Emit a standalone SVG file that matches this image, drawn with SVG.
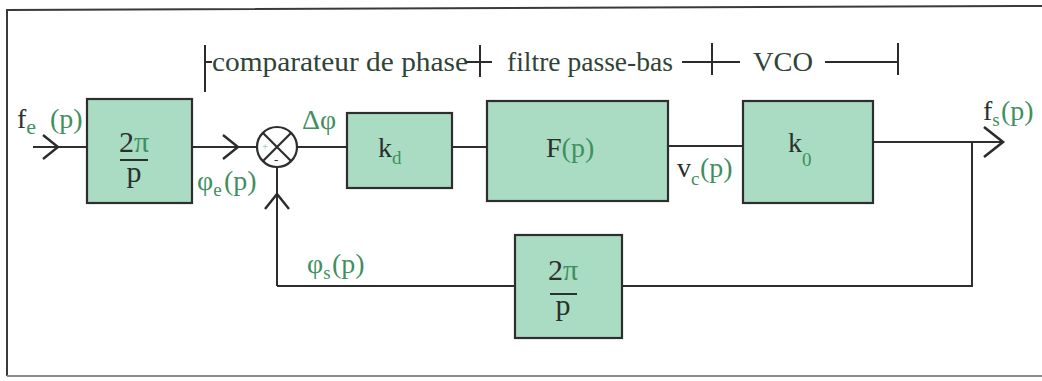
<svg xmlns="http://www.w3.org/2000/svg" width="1042" height="381" viewBox="0 0 1042 381" font-family="'Liberation Serif', 'DejaVu Serif', serif">
  <style>
    .blk { fill: #a9dcc2; stroke: #2e2e2e; stroke-width: 2.2; }
    .wire { fill: none; stroke: #2e2e2e; stroke-width: 2; }
    .tick { fill: none; stroke: #2b2b2b; stroke-width: 2; }
    .main { fill: #2b302d; font-size: 28px; }
    .top { fill: #2f4437; font-size: 28px; }
    .grn { fill: #3f8f5f; }
    .sub { font-size: 19px; }
    .frac { fill: #2b302d; font-size: 30px; text-anchor: middle; }
  </style>
  <defs>
    <marker id="chev" viewBox="-20 -16 24 32" refX="0" refY="0" markerWidth="24" markerHeight="32" markerUnits="userSpaceOnUse" orient="auto">
      <path d="M-15,-12 L0,0 L-15,12" fill="none" stroke="#2b2b2b" stroke-width="2.4"/>
    </marker>
    <marker id="chevL" viewBox="-24 -18 28 36" refX="0" refY="0" markerWidth="28" markerHeight="36" markerUnits="userSpaceOnUse" orient="auto">
      <path d="M-19,-15 L0,0 L-19,15" fill="none" stroke="#2b2b2b" stroke-width="2.6"/>
    </marker>
  </defs>

  <rect width="1042" height="381" fill="#ffffff"/>

  <g id="frame">
    <path d="M7,376 L7,10 L1042,6" fill="none" stroke="#3a3a3a" stroke-width="2"/>
    <path d="M7,376 L1042,376" fill="none" stroke="#8a8a8a" stroke-width="2"/>
  </g>

  <g id="sections">
    <path class="tick" d="M205,45 L205,92 M205,62 L212,62"/>
    <text class="top" x="212" y="71" textLength="256" lengthAdjust="spacingAndGlyphs">comparateur de phase</text>
    <path class="tick" d="M466,62 L492,62 M480,45 L480,77"/>
    <text class="top" x="507" y="71" textLength="166" lengthAdjust="spacingAndGlyphs">filtre passe-bas</text>
    <path class="tick" d="M682,62 L740,62 M712,43 L712,75"/>
    <text class="top" x="753" y="71" textLength="60" lengthAdjust="spacingAndGlyphs">VCO</text>
    <path class="tick" d="M825,62 L898,62 M898,43 L898,75"/>
  </g>

  <g id="connectors">
    <path class="wire" d="M33,147 L58,147 L87,147" marker-mid="url(#chev)"/>
    <path class="wire" d="M192,147 L238,147 L257,147" marker-mid="url(#chev)"/>
    <path class="wire" d="M297,147 L347,147"/>
    <path class="wire" d="M452,147 L487,147"/>
    <path class="wire" d="M668,146 L743,146"/>
    <path class="wire" d="M873,142 L1003,142" marker-end="url(#chevL)"/>
    <path class="wire" d="M972,142 L972,286 L622,286"/>
    <path class="wire" d="M515,286 L277,286"/>
    <path class="wire" d="M277,286 L277,194 L277,167" marker-mid="url(#chev)"/>
  </g>

  <g id="node-conv-in">
    <rect class="blk" x="87" y="99" width="105" height="104"/>
    <text class="frac" x="134" y="152">2<tspan class="grn">π</tspan></text>
    <line x1="120" y1="160" x2="148" y2="160" stroke="#2b302d" stroke-width="2"/>
    <text class="frac" x="134" y="182">p</text>
  </g>

  <g id="node-comparator">
    <circle cx="277" cy="147" r="20" fill="#ffffff" stroke="#2e2e2e" stroke-width="2.2"/>
    <path d="M263,133 L291,161 M291,133 L263,161" fill="none" stroke="#2e2e2e" stroke-width="2.2"/>
    <text x="262" y="150" fill="#7fbf98" font-size="11px">+</text>
    <text x="274" y="164" fill="#2b302d" font-size="13px">-</text>
  </g>

  <g id="node-kd">
    <rect class="blk" x="347" y="113" width="105" height="75"/>
    <text class="main" x="378" y="157">k<tspan class="grn sub" dy="7">d</tspan></text>
  </g>

  <g id="node-filter">
    <rect class="blk" x="487" y="101" width="181" height="100"/>
    <text class="main" x="546" y="157" font-size="29px">F<tspan class="grn">(p)</tspan></text>
  </g>

  <g id="node-vco">
    <rect class="blk" x="743" y="101" width="130" height="102"/>
    <text class="main" x="788" y="152">k<tspan class="grn sub" dy="14">0</tspan></text>
  </g>

  <g id="node-conv-fb">
    <rect class="blk" x="515" y="235" width="107" height="103"/>
    <text class="frac" x="563" y="280">2<tspan class="grn">π</tspan></text>
    <line x1="550" y1="294" x2="577" y2="294" stroke="#2b302d" stroke-width="2"/>
    <text class="frac" x="563" y="315">p</text>
  </g>

  <g id="labels">
    <text class="main" x="17" y="128">f<tspan class="grn" font-size="22px" dy="6">e</tspan><tspan class="grn" x="50" dy="-6">(p)</tspan></text>
    <text class="main grn" x="197" y="190">φ<tspan class="sub" dy="6">e</tspan><tspan x="224" dy="-6">(p)</tspan></text>
    <text class="main grn" x="302" y="129" font-size="20px">Δφ</text>
    <text class="main" x="677" y="177">v<tspan class="grn sub" dy="8">c</tspan><tspan class="grn" x="700" dy="-8">(p)</tspan></text>
    <text class="main" x="983" y="120">f<tspan class="grn sub" dy="6">s</tspan><tspan class="grn" x="1001" dy="-6">(p)</tspan></text>
    <text class="main grn" x="307" y="273">φ<tspan class="sub" dy="6">s</tspan><tspan x="332" dy="-6">(p)</tspan></text>
  </g>
</svg>
